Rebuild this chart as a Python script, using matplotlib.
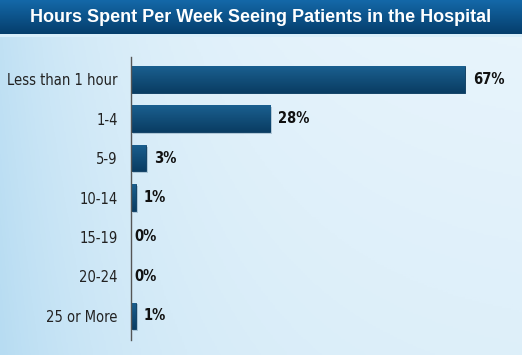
import numpy as np
import matplotlib
matplotlib.use('Agg')
import matplotlib.pyplot as plt
from matplotlib.colors import LinearSegmentedColormap

categories = ['Less than 1 hour', '1-4', '5-9', '10-14', '15-19', '20-24', '25 or More']
values     = [67, 28, 3, 1, 0, 0, 1]
title      = 'Hours Spent Per Week Seeing Patients in the Hospital'

W, H = 522, 355

fig = plt.figure(figsize=(W / 100, H / 100), dpi=100)

# background gradient (light blue, more saturated at the left)
bg = fig.add_axes([0, 0, 1, 1])
xx = np.linspace(0, 1, 300)
yy = np.linspace(0, 1, 200)
X, Y = np.meshgrid(xx, yy)
shade = 0.55 * np.exp(-X * 4) + 0.15 * Y
bg_cmap = LinearSegmentedColormap.from_list('bg', ['#e9f5fc', '#b7dcf2'])
bg.imshow(shade, cmap=bg_cmap, extent=[0, 1, 0, 1], aspect='auto', vmin=0, vmax=0.7, origin='upper')

# title bar
tb_bot = 1 - 34 / H
tb = np.linspace(0, 1, 50).reshape(-1, 1)
tb_cmap = LinearSegmentedColormap.from_list('tb', ['#1468a8', '#053e6c'])
bg.imshow(tb, cmap=tb_cmap, extent=[0, 1, tb_bot, 1.0], aspect='auto')
bg.axhspan(tb_bot - 3 / H, tb_bot, color='#d8eefa', lw=0)
bg.set_xlim(0, 1)
bg.set_ylim(0, 1)
bg.axis('off')
bg.text(0.5, 1 - 17 / H, title, color='white', fontsize=13, fontweight='bold',
        family=['Liberation Sans', 'DejaVu Sans'], ha='center', va='center')

# bar chart axes
left_px, right_px = 131, 522
top_px, bot_px = 57, 340
ax = fig.add_axes([left_px / W, 1 - bot_px / H, (right_px - left_px) / W, (bot_px - top_px) / H])
ax.patch.set_alpha(0)

ypos = np.arange(len(categories))
bar_h = 0.68
# soft shadow
ax.barh(ypos + 0.05, values, height=bar_h, left=0.35, color='#5a7f99', alpha=0.35, lw=0)
bars = ax.barh(ypos, values, height=bar_h, color='#0d4d7c', edgecolor='#0a3a5e', lw=0.6)

# vertical gradient inside each bar
bar_cmap = LinearSegmentedColormap.from_list('bar', ['#1a5f8f', '#0a3d63'])
grad = np.linspace(0, 1, 40).reshape(-1, 1)
for b in bars:
    if b.get_width() <= 0:
        continue
    x0, y0 = b.get_x(), b.get_y()
    im = ax.imshow(grad, cmap=bar_cmap, aspect='auto', origin='upper',
                   extent=[x0, x0 + b.get_width(), y0 + bar_h, y0], zorder=b.get_zorder())
    im.set_clip_path(b)

for y, v in zip(ypos, values):
    ax.text(v + (1.6 if v > 0 else 0.6), y, f'{v}%', ha='left', va='center',
            fontsize=10.5, fontweight='bold', family='DejaVu Sans', stretch='condensed',
            color='#111111')

ax.set_xlim(0, (right_px - left_px) / 4.98)
ax.set_ylim(6.61, -0.56)
ax.set_yticks(ypos, categories)
ax.tick_params(axis='y', length=0, pad=9.5, labelsize=10.5, labelcolor='#222222')
for lab in ax.get_yticklabels():
    lab.set_family('DejaVu Sans')
    lab.set_stretch('condensed')
ax.set_xticks([])
for s in ['top', 'right', 'bottom']:
    ax.spines[s].set_visible(False)
ax.spines['left'].set_color('#555555')
ax.spines['left'].set_linewidth(1.0)

fig.savefig('out.png', dpi=100)
